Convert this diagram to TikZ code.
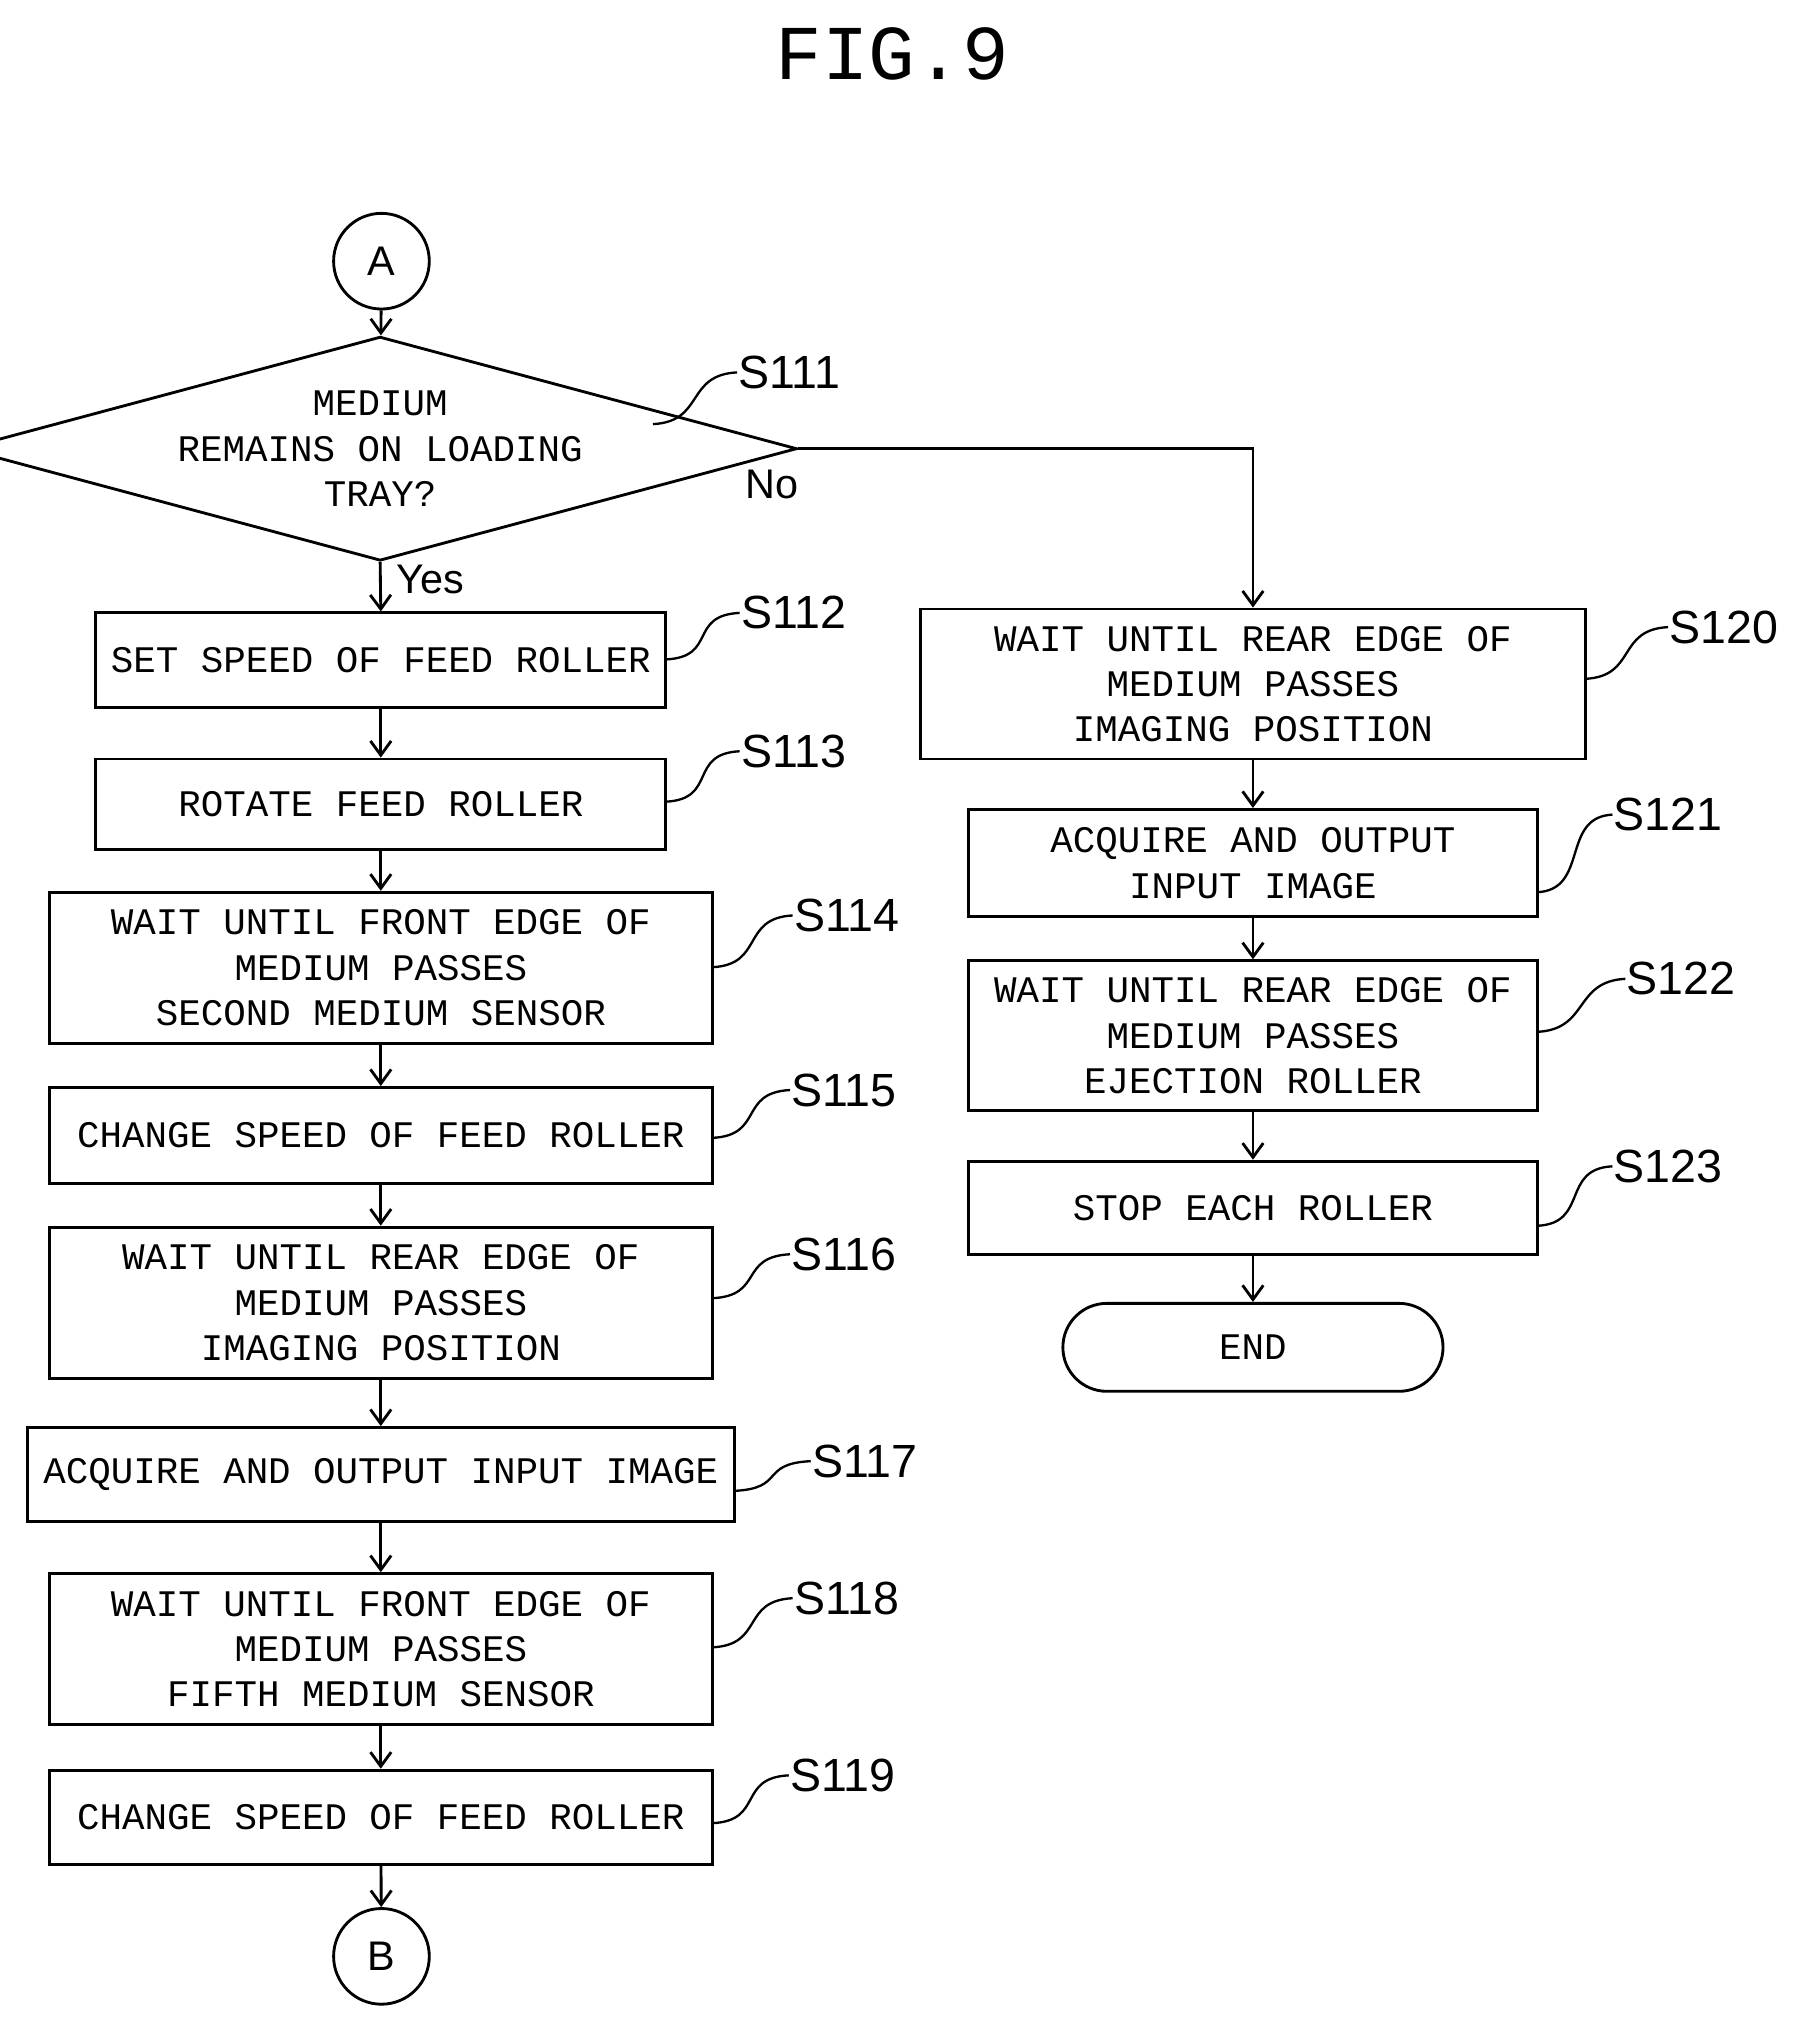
\documentclass[tikz,border=0pt]{standalone}
\usepackage{fontspec}
\setmainfont{Liberation Sans}
\newfontfamily\boxfont{Liberation Mono}
\usetikzlibrary{shapes.geometric,arrows.meta}
\begin{document}
\begin{tikzpicture}[x=1pt,y=-1pt,line width=2.2pt,
  box/.style={draw,rectangle,inner sep=0pt,font=\boxfont\fontsize{29}{35}\selectfont,align=center},
  lbl/.style={font=\fontsize{36}{40}\selectfont,anchor=west,inner sep=0pt},
  arr/.style={-{Straight Barb[length=11pt,width=16pt]}},
  wave/.style={line width=1.8pt}]
\useasboundingbox (0,0) rectangle (1389,1563);
\node[font=\boxfont\fontsize{60}{60}\selectfont] (title) at (690,42) {FIG.9};
% left column
\node[draw,circle,minimum size=74pt,inner sep=0pt,font=\fontsize{32}{36}\selectfont] (A) at (295,202) {A};
\node[draw,diamond,aspect=3.72,minimum width=547pt,minimum height=147pt,inner sep=0pt,font=\boxfont\fontsize{29}{35}\selectfont,align=center] (d) at (294,347) {MEDIUM\\REMAINS ON LOADING\\TRAY?};
\node[box,minimum width=441pt,minimum height=73pt] (s112) at (294.5,510.5) {SET SPEED OF FEED ROLLER};
\node[box,minimum width=441pt,minimum height=70pt] (s113) at (294.5,622) {ROTATE FEED ROLLER};
\node[box,minimum width=513pt,minimum height=117pt] (s114) at (294.5,748.5) {WAIT UNTIL FRONT EDGE OF\\MEDIUM PASSES\\SECOND MEDIUM SENSOR};
\node[box,minimum width=513pt,minimum height=74pt] (s115) at (294.5,878) {CHANGE SPEED OF FEED ROLLER};
\node[box,minimum width=513pt,minimum height=117pt] (s116) at (294.5,1007.5) {WAIT UNTIL REAR EDGE OF\\MEDIUM PASSES\\IMAGING POSITION};
\node[box,minimum width=547pt,minimum height=73pt] (s117) at (294.5,1140.5) {ACQUIRE AND OUTPUT INPUT IMAGE};
\node[box,minimum width=513pt,minimum height=117pt] (s118) at (294.5,1275.5) {WAIT UNTIL FRONT EDGE OF\\MEDIUM PASSES\\FIFTH MEDIUM SENSOR};
\node[box,minimum width=513pt,minimum height=73pt] (s119) at (294.5,1405.5) {CHANGE SPEED OF FEED ROLLER};
\node[draw,circle,minimum size=74pt,inner sep=0pt,font=\fontsize{32}{36}\selectfont] (B) at (295,1513) {B};
% right column
\node[box,minimum width=514pt,minimum height=116pt] (s120) at (969,529) {WAIT UNTIL REAR EDGE OF\\MEDIUM PASSES\\IMAGING POSITION};
\node[box,minimum width=440pt,minimum height=83pt] (s121) at (969,667.5) {ACQUIRE AND OUTPUT\\INPUT IMAGE};
\node[box,minimum width=440pt,minimum height=116pt] (s122) at (969,801) {WAIT UNTIL REAR EDGE OF\\MEDIUM PASSES\\EJECTION ROLLER};
\node[box,minimum width=440pt,minimum height=72pt] (s123) at (969,934) {STOP EACH ROLLER};
\node[draw,rounded corners=34pt,minimum width=294pt,minimum height=68pt,inner sep=0pt,font=\boxfont\fontsize{29}{35}\selectfont] (end) at (969,1042) {END};
% arrows
\draw[arr] (A) -- (d);
\draw[arr] (d.south) -- (s112.north) node[pos=0.35,right=8pt,font=\fontsize{32}{36}\selectfont]{Yes};
\draw[arr] (s112) -- (s113);
\draw[arr] (s113) -- (s114);
\draw[arr] (s114) -- (s115);
\draw[arr] (s115) -- (s116);
\draw[arr] (s116) -- (s117);
\draw[arr] (s117) -- (s118);
\draw[arr] (s118) -- (s119);
\draw[arr] (s119) -- (B);
\draw[arr] (d.east) -| (s120.north);
\node[font=\fontsize{32}{36}\selectfont] (no) at (597,375) {No};
\draw[arr] (s120) -- (s121);
\draw[arr] (s121) -- (s122);
\draw[arr] (s122) -- (s123);
\draw[arr] (s123) -- (end);
% step labels
\foreach \n/\x/\y/\sx/\sy in {S111/570/288/505/328, S112/572/474/515/510, S113/572/581/515/620, S114/613/708/551/748, S115/611/843/551/880, S116/611/970/551/1004, S117/627/1130/568/1153, S118/613/1236/551/1274, S119/610/1373/551/1410, S120/1290/485/1226/525, S121/1247/630/1189/690, S122/1257/757/1189/798, S123/1247/902/1189/948}{
  \node[lbl] (l\n) at (\x,\y) {\n};
  \draw[wave] (\sx,\sy) .. controls (\sx+40,\sy-2) and (\x-40,\y+2) .. (l\n.west);
}
\end{tikzpicture}
\end{document}
